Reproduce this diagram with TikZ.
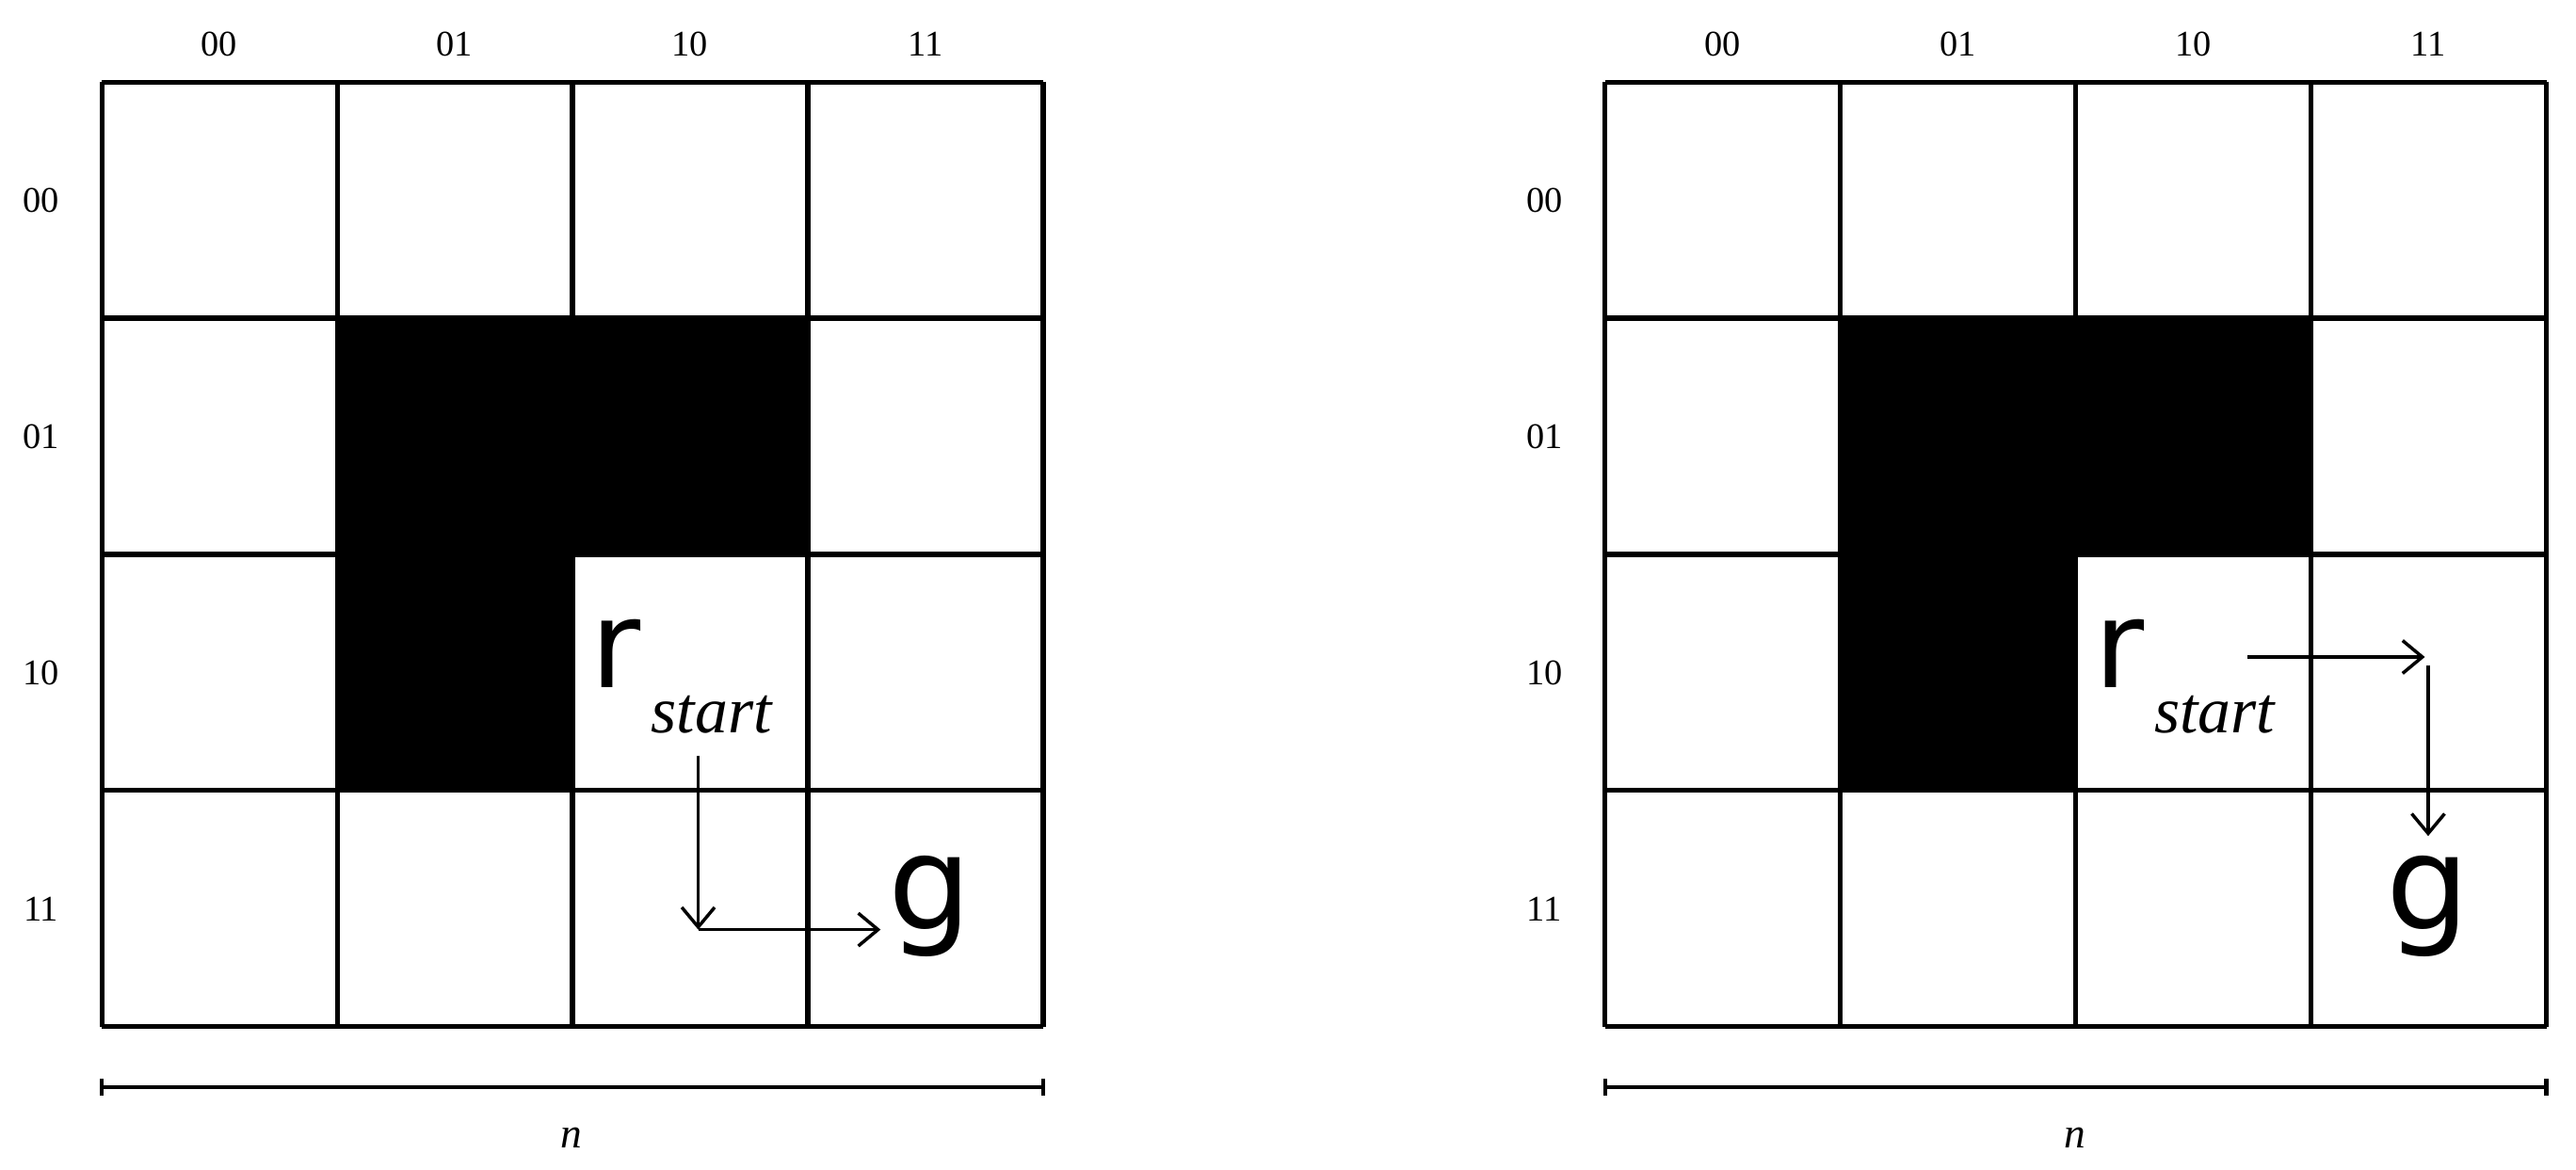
\documentclass[tikz,border=0pt]{standalone}
\usepackage{fontspec}
\setmainfont{Liberation Serif}
\newfontfamily\sansf{DejaVu Sans}
\usetikzlibrary{arrows.meta}
\begin{document}
\begin{tikzpicture}[x=1pt,y=-1pt,
  lab/.style={font=\fontsize{22}{24}\selectfont},
  grd/.style={line width=3pt},
  arr/.style={line width=2pt,-{Straight Barb[length=12pt,width=20pt]}},
  rr/.style={font=\sansf\fontsize{74}{80}\selectfont,inner sep=0pt},
  st/.style={font=\itshape\fontsize{40}{44}\selectfont,inner sep=0pt},
  gg/.style={font=\sansf\fontsize{80}{86}\selectfont,inner sep=0pt}]
\useasboundingbox (0,0) rectangle (1568,712);
\foreach \ox/\lx in {62/25,977/940}{
  \fill (\ox+143,193) rectangle (\ox+429,336);
  \fill (\ox+143,336) rectangle (\ox+286,481);
  \foreach \i in {0,...,4}{
    \draw[grd] (\ox+\i*143.25,50) -- (\ox+\i*143.25,625);
    \draw[grd] (\ox,50+\i*143.75) -- (\ox+573,50+\i*143.75);
  }
  \foreach \t [count=\k from 0] in {00,01,10,11}{
    \node[lab] (c\t) at (\ox+71.5+\k*143.25,27) {\t};
    \node[lab] (r\t) at (\lx,122+\k*143.75) {\t};
  }
  \draw[line width=2.5pt] (\ox,657) -- (\ox,667) (\ox,662) -- (\ox+573,662) (\ox+573,657) -- (\ox+573,667);
  \node[lab,font=\itshape\fontsize{26}{28}\selectfont] (n) at (\ox+286,693) {n};
}
% left
\node[rr] (r1) at (375,398) {r};
\node[st] (s1) at (433,435) {start};
\coordinate (a1) at (425,460);
\coordinate (b1) at (425,566);
\coordinate (c1) at (536,566);
\draw[arr] (a1) -- (b1);
\draw[arr] (b1) -- (c1);
\node[gg] (g1) at (566,552) {g};
% right
\node[rr] (r2) at (1290,398) {r};
\node[st] (s2) at (1348,435) {start};
\coordinate (a2) at (1368,400);
\coordinate (b2) at (1476,400);
\coordinate (c2) at (1478,405);
\coordinate (d2) at (1478,509);
\draw[arr] (a2) -- (b2);
\draw[line width=2pt,-{Straight Barb[length=12pt,width=20pt]}] (c2) -- (d2);
\node[gg] (g2) at (1478,552) {g};
\end{tikzpicture}
\end{document}
